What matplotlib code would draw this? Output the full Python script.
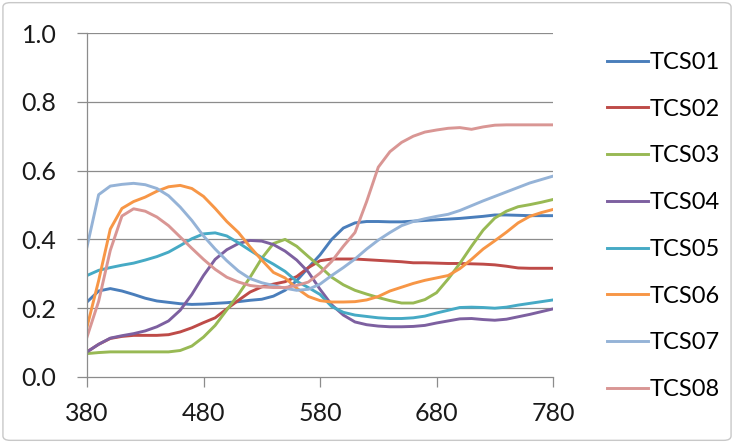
import numpy as np
import matplotlib
matplotlib.use("Agg")
import matplotlib.pyplot as plt
from matplotlib.patches import FancyBboxPatch

plt.rcParams['font.family'] = ['Lato', 'DejaVu Sans']

wavelength = np.arange(380, 781, 10)

tcs01 = [0.218, 0.250, 0.257, 0.250, 0.240, 0.229, 0.221, 0.217, 0.213, 0.211,
         0.212, 0.214, 0.216, 0.219, 0.223, 0.226, 0.235, 0.252, 0.280, 0.318,
         0.355, 0.400, 0.433, 0.448, 0.452, 0.452, 0.451, 0.451, 0.453, 0.455,
         0.457, 0.459, 0.461, 0.464, 0.467, 0.471, 0.471, 0.470, 0.469, 0.469,
         0.469]
tcs02 = [0.073, 0.095, 0.112, 0.118, 0.121, 0.121, 0.121, 0.123, 0.131, 0.143,
         0.158, 0.172, 0.198, 0.223, 0.247, 0.262, 0.270, 0.277, 0.292, 0.318,
         0.338, 0.343, 0.343, 0.343, 0.341, 0.339, 0.337, 0.335, 0.332, 0.332,
         0.331, 0.330, 0.330, 0.329, 0.328, 0.326, 0.322, 0.317, 0.316, 0.316,
         0.316]
tcs03 = [0.068, 0.071, 0.073, 0.073, 0.073, 0.073, 0.073, 0.073, 0.077, 0.090,
         0.116, 0.150, 0.195, 0.240, 0.290, 0.345, 0.388, 0.400, 0.380, 0.350,
         0.321, 0.290, 0.268, 0.252, 0.241, 0.231, 0.222, 0.215, 0.215, 0.225,
         0.245, 0.285, 0.330, 0.380, 0.427, 0.462, 0.482, 0.495, 0.501, 0.508,
         0.516]
tcs04 = [0.073, 0.095, 0.113, 0.120, 0.126, 0.134, 0.146, 0.163, 0.194, 0.240,
         0.295, 0.342, 0.370, 0.388, 0.397, 0.395, 0.385, 0.366, 0.340, 0.305,
         0.255, 0.210, 0.180, 0.160, 0.152, 0.148, 0.146, 0.146, 0.147, 0.150,
         0.157, 0.163, 0.169, 0.170, 0.167, 0.165, 0.168, 0.175, 0.182, 0.190,
         0.198]
tcs05 = [0.295, 0.310, 0.318, 0.325, 0.331, 0.340, 0.350, 0.363, 0.382, 0.402,
         0.416, 0.419, 0.410, 0.390, 0.368, 0.347, 0.328, 0.307, 0.278, 0.260,
         0.240, 0.205, 0.188, 0.180, 0.176, 0.172, 0.170, 0.170, 0.172, 0.177,
         0.186, 0.194, 0.202, 0.203, 0.202, 0.200, 0.203, 0.209, 0.214, 0.219,
         0.224]
tcs06 = [0.145, 0.280, 0.430, 0.490, 0.510, 0.523, 0.540, 0.553, 0.557, 0.548,
         0.525, 0.490, 0.452, 0.420, 0.378, 0.340, 0.304, 0.288, 0.258, 0.234,
         0.222, 0.218, 0.218, 0.219, 0.224, 0.234, 0.250, 0.261, 0.272, 0.281,
         0.288, 0.295, 0.315, 0.342, 0.372, 0.396, 0.421, 0.448, 0.467, 0.478,
         0.487]
tcs07 = [0.378, 0.530, 0.555, 0.560, 0.563, 0.559, 0.548, 0.527, 0.494, 0.455,
         0.410, 0.372, 0.338, 0.308, 0.286, 0.274, 0.266, 0.258, 0.252, 0.255,
         0.270, 0.295, 0.318, 0.343, 0.372, 0.398, 0.420, 0.440, 0.452, 0.460,
         0.467, 0.473, 0.484, 0.498, 0.512, 0.525, 0.538, 0.551, 0.564, 0.574,
         0.584]
tcs08 = [0.116, 0.220, 0.368, 0.468, 0.489, 0.482, 0.465, 0.440, 0.407, 0.374,
         0.342, 0.313, 0.290, 0.276, 0.266, 0.262, 0.260, 0.260, 0.266, 0.276,
         0.302, 0.336, 0.380, 0.420, 0.510, 0.610, 0.655, 0.682, 0.700, 0.712,
         0.718, 0.723, 0.725, 0.720, 0.727, 0.732, 0.733, 0.733, 0.733, 0.733,
         0.733]

series = [tcs01, tcs02, tcs03, tcs04, tcs05, tcs06, tcs07, tcs08]
labels = ['TCS01', 'TCS02', 'TCS03', 'TCS04', 'TCS05', 'TCS06', 'TCS07', 'TCS08']
colors = ['#4A7EBB', '#BE4B48', '#98B954', '#7D60A0', '#46AAC5', '#F79646',
          '#95B3D7', '#D99694']

fig = plt.figure(figsize=(7.34, 4.43), dpi=100)
ax = fig.add_axes([0.1185, 0.149, 0.635, 0.7765])

grid_col = '#8C8C8C'
for yv in np.arange(0.2, 1.01, 0.2):
    ax.axhline(yv, color=grid_col, linewidth=0.9, zorder=0)

for vals, lab, col in zip(series, labels, colors):
    ax.plot(wavelength, vals, color=col, linewidth=2.1, label=lab)

ax.set_xlim(380, 780)
ax.set_ylim(0, 1.0)
ax.set_xticks([380, 480, 580, 680, 780])
ax.set_yticks(np.arange(0, 1.01, 0.2))
ax.set_yticklabels([f'{v:.1f}' for v in np.arange(0, 1.01, 0.2)])

for side in ['top', 'right']:
    ax.spines[side].set_visible(False)
for side in ['left', 'bottom']:
    ax.spines[side].set_color(grid_col)
    ax.spines[side].set_linewidth(0.9)
ax.tick_params(axis='both', colors=grid_col, length=7, width=0.9,
               labelcolor='#1a1a1a', labelsize=18)
ax.tick_params(axis='y', pad=15)
ax.tick_params(axis='x', pad=11)

fig.legend(loc='center left', bbox_to_anchor=(0.827, 0.49), frameon=False,
           fontsize=17, handlelength=1.75, handletextpad=0.05,
           labelspacing=1.09, borderpad=0, borderaxespad=0)

fig.patches.append(FancyBboxPatch((0.004, 0.006), 0.992, 0.988,
                                  boxstyle='round,pad=0,rounding_size=0.01',
                                  transform=fig.transFigure, fill=False,
                                  edgecolor='#C8C8C8', linewidth=1.0))

fig.savefig('out.png', dpi=100)
